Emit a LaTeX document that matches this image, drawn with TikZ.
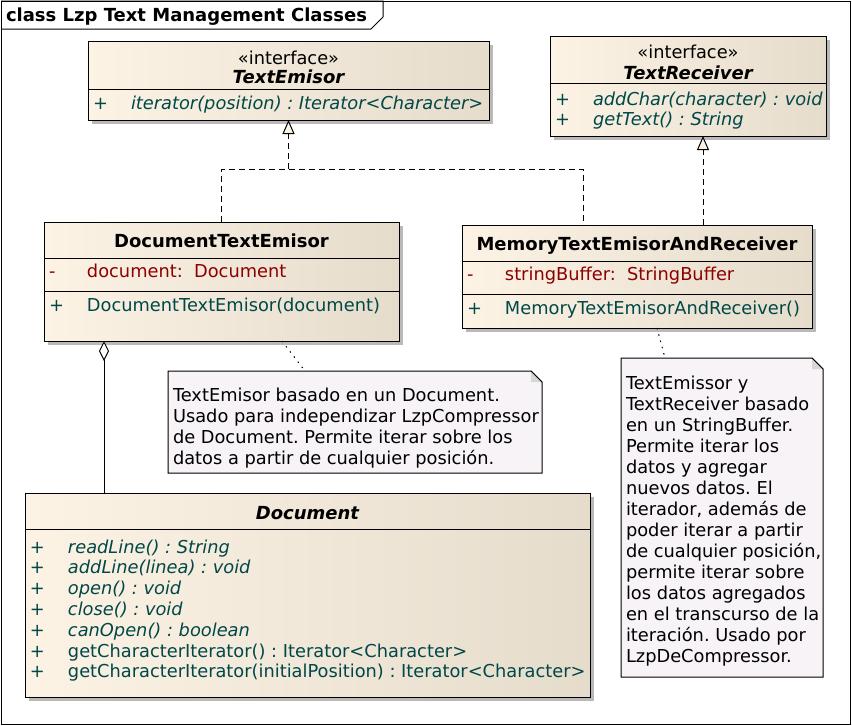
\documentclass[tikz,border=0pt]{standalone}
\usepackage{fontspec}
\setmainfont{DejaVu Sans}
\usetikzlibrary{arrows.meta,shadows}
\definecolor{clsL}{RGB}{252,243,229}
\definecolor{clsR}{RGB}{230,220,204}
\definecolor{shadowc}{RGB}{185,185,185}
\definecolor{notec}{RGB}{247,243,247}
\definecolor{foldc}{RGB}{215,215,215}
\definecolor{attrc}{RGB}{140,0,0}
\definecolor{opc}{RGB}{0,72,72}
\newcommand\fs{\fontsize{17.8}{21}\selectfont\frenchspacing}
\newcommand\fb{\fontsize{18}{21}\selectfont\bfseries}
\newcommand\mem[2]{\hbox{\hbox to 38pt{#1\hfil}#2}}
\newcommand\vlines[2]{\vtop{\baselineskip=#1\lineskiplimit=-20pt\relax #2}}
\begin{document}
\begin{tikzpicture}[x=1pt,y=-1pt,line width=1pt,font=\fs,
  clsbox/.style={draw=black,inner sep=0pt,outer sep=0pt,anchor=north west,
    left color=clsL,right color=clsR,
    drop shadow={shadow xshift=4pt,shadow yshift=-4pt,fill=shadowc,opacity=1}},
  notebox/.style={inner sep=0pt,outer sep=0pt,anchor=north west},
  txt/.style={inner sep=0pt,outer sep=0pt},
  gen/.style={dash pattern=on 6pt off 4pt},
  genarrow/.style={gen,-{Triangle[length=14pt,width=12pt,fill=clsL]}},
  agg/.style={-{Diamond[length=20pt,width=10pt,fill=white]}},
  notel/.style={dash pattern=on 1.5pt off 5pt}
]
\useasboundingbox (0,0) rectangle (852,726);
\fill[white] (0,0) rectangle (852,726);
% frame
\draw (1,1) rectangle (850,724);
\draw (1,1) -- (383,1) -- (383,17) -- (371,29) -- (1,29);
\node[txt,anchor=base west,font=\fb] (title) at (6,21) {class Lzp Text Management Classes};

% TextEmisor
\node[clsbox,minimum width=401pt,minimum height=79pt] (te) at (88,41) {};
\draw (te.west |- 0,89) -- (te.east |- 0,89);
\node[txt,anchor=base] (te1) at (te.north |- 0,64) {«interface»};
\node[txt,anchor=base,font=\fb\itshape] (te2) at (te.north |- 0,83) {TextEmisor};
\node[txt,anchor=base west,text=opc] (te3) at (93,109) {\mem{+}{\itshape iterator(position) : Iterator<Character>}};

% TextReceiver
\node[clsbox,minimum width=276pt,minimum height=100pt] (tr) at (550,36) {};
\draw (tr.west |- 0,83) -- (tr.east |- 0,83);
\node[txt,anchor=base] (tr1) at (tr.north |- 0,58) {«interface»};
\node[txt,anchor=base,font=\fb\itshape] (tr2) at (tr.north |- 0,79) {TextReceiver};
\node[txt,anchor=base west,text=opc] (tr3) at (555,105) {\vlines{20pt}{\mem{+}{\itshape addChar(character) : void}\mem{+}{\itshape getText() : String}}};

% DocumentTextEmisor
\node[clsbox,minimum width=355pt,minimum height=119pt] (dte) at (44,222) {};
\draw (dte.west |- 0,258) -- (dte.east |- 0,258);
\draw (dte.west |- 0,291) -- (dte.east |- 0,291);
\node[txt,anchor=base,font=\fb] (dte1) at (dte.north |- 0,247) {DocumentTextEmisor};
\node[txt,anchor=base west,text=attrc] (dte2) at (49,277) {\mem{-}{document:~ Document}};
\node[txt,anchor=base west,text=opc] (dte3) at (49,311) {\mem{+}{DocumentTextEmisor(document)}};

% MemoryTextEmisorAndReceiver
\node[clsbox,minimum width=350pt,minimum height=103pt] (mte) at (462,225) {};
\draw (mte.west |- 0,261) -- (mte.east |- 0,261);
\draw (mte.west |- 0,294) -- (mte.east |- 0,294);
\node[txt,anchor=base,font=\fb] (mte1) at (mte.north |- 0,250) {MemoryTextEmisorAndReceiver};
\node[txt,anchor=base west,text=attrc] (mte2) at (467,280) {\mem{-}{stringBuffer:~ StringBuffer}};
\node[txt,anchor=base west,text=opc] (mte3) at (467,314) {\mem{+}{MemoryTextEmisorAndReceiver()}};

% Document
\node[clsbox,minimum width=565pt,minimum height=204pt] (doc) at (25,493) {};
\draw (doc.west |- 0,529) -- (doc.east |- 0,529);
\node[txt,anchor=base,font=\fb\itshape] (doc1) at (doc.north |- 0,519) {Document};
\node[txt,anchor=base west,text=opc] (doc2) at (30,553) {\vlines{20.8pt}{%
  \mem{+}{\itshape readLine() : String}%
  \mem{+}{\itshape addLine(linea) : void}%
  \mem{+}{\itshape open() : void}%
  \mem{+}{\itshape close() : void}%
  \mem{+}{\itshape canOpen() : boolean}%
  \mem{+}{getCharacterIterator() : Iterator<Character>}%
  \mem{+}{getCharacterIterator(initialPosition) : Iterator<Character>}}};

% Note 1
\node[notebox,minimum width=374pt,minimum height=102pt] (n1) at (168,371) {};
\draw[fill=notec] (n1.north west) -- ([xshift=-11pt]n1.north east) -- ([yshift=-11pt]n1.north east) -- (n1.south east) -- (n1.south west) -- cycle;
\fill[foldc] ([xshift=-11pt]n1.north east) -- ([xshift=-11pt,yshift=-11pt]n1.north east) -- ([yshift=-11pt]n1.north east) -- cycle;
\draw ([xshift=-11pt]n1.north east) -- ([yshift=-11pt]n1.north east);
\node[txt,anchor=base west] (n1t) at (173,401) {\vlines{21pt}{%
  \hbox{TextEmisor basado en un Document.}%
  \hbox{Usado para independizar LzpCompressor}%
  \hbox{de Document. Permite iterar sobre los}%
  \hbox{datos a partir de cualquier posición.}}};

% Note 2
\node[notebox,minimum width=202pt,minimum height=319pt] (n2) at (621,358) {};
\draw[fill=notec] (n2.north west) -- ([xshift=-11pt]n2.north east) -- ([yshift=-11pt]n2.north east) -- (n2.south east) -- (n2.south west) -- cycle;
\fill[foldc] ([xshift=-11pt]n2.north east) -- ([xshift=-11pt,yshift=-11pt]n2.north east) -- ([yshift=-11pt]n2.north east) -- cycle;
\draw ([xshift=-11pt]n2.north east) -- ([yshift=-11pt]n2.north east);
\node[txt,anchor=base west] (n2t) at (626,389) {\vlines{21pt}{%
  \hbox{TextEmissor y}%
  \hbox{TextReceiver basado}%
  \hbox{en un StringBuffer.}%
  \hbox{Permite iterar los}%
  \hbox{datos y agregar}%
  \hbox{nuevos datos. El}%
  \hbox{iterador, además de}%
  \hbox{poder iterar a partir}%
  \hbox{de cualquier posición,}%
  \hbox{permite iterar sobre}%
  \hbox{los datos agregados}%
  \hbox{en el transcurso de la}%
  \hbox{iteración. Usado por}%
  \hbox{LzpDeCompressor.}}};

% connectors
\coordinate (j1) at (288.5,169);
\coordinate (j2) at (583,169);
\coordinate (rx) at (703,180);
\coordinate (ax) at (104,400);
\draw[gen] (dte.north) |- (j2) -- (mte.north -| j2);
\draw[genarrow] (j1) -- (te.south);
\draw[genarrow] (mte.north -| rx) -- (tr.south -| rx);
\draw[agg] (doc.north -| ax) -- (dte.south -| ax);
\draw[notel] ([xshift=60.5pt]dte.south) -- ([xshift=-50pt]n1.north);
\draw[notel] ([xshift=20pt]mte.south) -- ([xshift=-57pt]n2.north);
\end{tikzpicture}
\end{document}
